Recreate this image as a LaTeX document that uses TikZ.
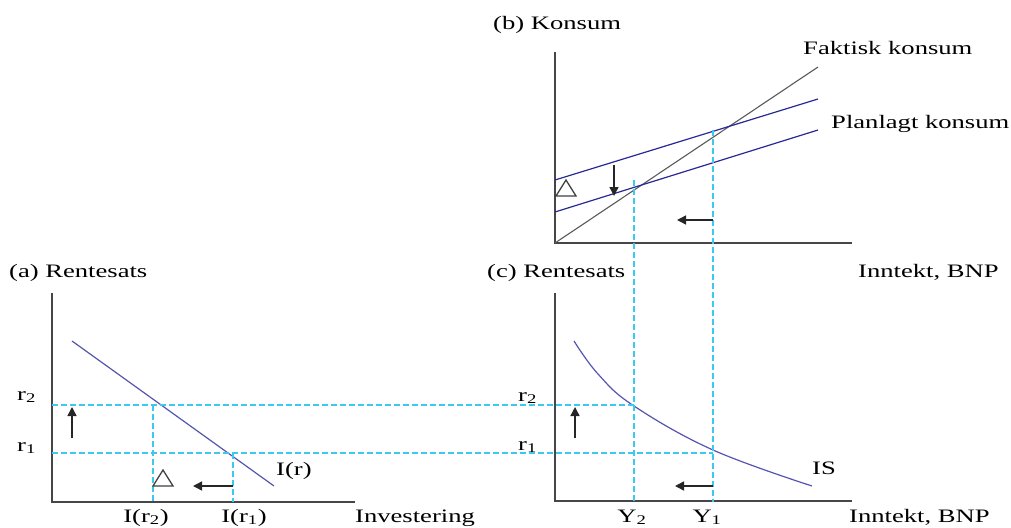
\documentclass[tikz,border=0pt]{standalone}
\usepackage{fontspec}
\setmainfont{Liberation Serif}[FakeStretch=1.40]
\usetikzlibrary{arrows.meta}

\definecolor{axisgray}{RGB}{70,70,70}
\definecolor{plannedblue}{RGB}{40,40,150}
\definecolor{curveblue}{RGB}{85,85,175}
\definecolor{guidecyan}{RGB}{60,200,240}

\tikzset{
  axis/.style={draw=axisgray, line width=1.5pt},
  actual/.style={draw=black!65, line width=1.1pt},
  planned/.style={draw=plannedblue, line width=1.2pt},
  schedule/.style={draw=curveblue, line width=1.2pt},
  guide/.style={draw=guidecyan, line width=1.3pt, dash pattern=on 6pt off 3pt},
  shiftarrow/.style={draw=black!85, line width=1.4pt, -{Triangle[length=9pt,width=9pt]}},
  gap/.style={draw=black!75, line width=1.3pt, line join=miter},
  lbl/.style={font=\fontsize{19}{21}\selectfont, inner sep=0pt, anchor=base west},
}

\begin{document}
\begin{tikzpicture}[x=1pt, y=-1pt]
  \useasboundingbox (0,0) rectangle (1011,527);

  % (b) consumption panel
  \coordinate (b0) at (555,243);
  \coordinate (btop) at (555,52);
  \coordinate (bend) at (852,243);
  \coordinate (fk) at (818,67);
  \coordinate (pkA0) at (555,180);
  \coordinate (pkA1) at (818,99);
  \coordinate (pkB0) at (555,212);
  \coordinate (pkB1) at (818,130);
  \draw[axis] (btop) -- (b0) -- (bend);
  \draw[actual] (b0) -- (fk);
  \draw[planned] (pkA0) -- (pkA1);
  \draw[planned] (pkB0) -- (pkB1);

  % (a) investment panel
  \coordinate (a0) at (52,502);
  \coordinate (atop) at (52,293);
  \coordinate (aend) at (355,502);
  \coordinate (ir0) at (72,341);
  \coordinate (ir1) at (274,486);
  \draw[axis] (atop) -- (a0) -- (aend);
  \draw[schedule] (ir0) -- (ir1);

  % (c) IS panel
  \coordinate (c0) at (555,501);
  \coordinate (ctop) at (555,293);
  \coordinate (cend) at (852,501);
  \draw[axis] (ctop) -- (c0) -- (cend);
  \draw[schedule] plot[smooth, tension=0.65] coordinates {(574,341) (598,374) (634,406) (713,450) (812,486)};

  % guide lines
  \coordinate (y2top) at (634,180);
  \coordinate (y2bot) at (634,502);
  \coordinate (y1top) at (713,130);
  \coordinate (y1bot) at (713,502);
  \coordinate (r2l) at (52,405);
  \coordinate (r2r) at (634,405);
  \coordinate (r1l) at (52,453);
  \coordinate (r1r) at (713,453);
  \coordinate (ir2top) at (153,405);
  \coordinate (ir2bot) at (153,502);
  \coordinate (ir1top) at (233,453);
  \coordinate (ir1bot) at (233,502);
  \foreach \p/\q in {y2top/y2bot, y1top/y1bot, r2l/r2r, r1l/r1r, ir2top/ir2bot, ir1top/ir1bot}
    \draw[guide] (\p) -- (\q);

  % shift arrows
  \coordinate (dnA) at (614,165);
  \coordinate (dnB) at (614,196);
  \draw[shiftarrow] (dnA) -- (dnB);
  \foreach \n/\x/\y/\u/\v in {lb/713/220/677/220, la/233/486/193/486, lc/713/486/675/486, ua/72/438/72/407, uc/575/438/575/407} {
    \coordinate (\n s) at (\x,\y);
    \coordinate (\n e) at (\u,\v);
    \draw[shiftarrow] (\n s) -- (\n e);
  }

  % gaps
  \draw[gap] (556,196) -- (576,196) -- (566,180) -- cycle;
  \draw[gap] (153,486) -- (173,486) -- (163,470) -- cycle;

  % labels
  \node[lbl] (titleb) at (493,30) {(b) Konsum};
  \node[lbl] (faktisk) at (803,55) {Faktisk konsum};
  \node[lbl] (planlagt) at (831,128) {Planlagt konsum};
  \node[lbl] (incomeb) at (858,277) {Inntekt, BNP};
  \node[lbl] (titlea) at (9,277) {(a) Rentesats};
  \node[lbl] (titlec) at (487,277) {(c) Rentesats};
  \node[lbl] (ra2) at (17,400) {r\textsubscript{2}};
  \node[lbl] (ra1) at (17,451) {r\textsubscript{1}};
  \node[lbl] (rc2) at (518,401) {r\textsubscript{2}};
  \node[lbl] (rc1) at (518,450) {r\textsubscript{1}};
  \node[lbl] (irlab) at (276,475) {I(r)};
  \node[lbl] (islab) at (812,474) {IS};
  \node[lbl, anchor=base] (ir2lab) at (146,522) {I(r\textsubscript{2})};
  \node[lbl, anchor=base] (ir1lab) at (244,522) {I(r\textsubscript{1})};
  \node[lbl] (invest) at (355,522) {Investering};
  \node[lbl, anchor=base] (y2lab) at (632,522) {Y\textsubscript{2}};
  \node[lbl, anchor=base] (y1lab) at (707,522) {Y\textsubscript{1}};
  \node[lbl] (incomec) at (849,522) {Inntekt, BNP};
\end{tikzpicture}
\end{document}
